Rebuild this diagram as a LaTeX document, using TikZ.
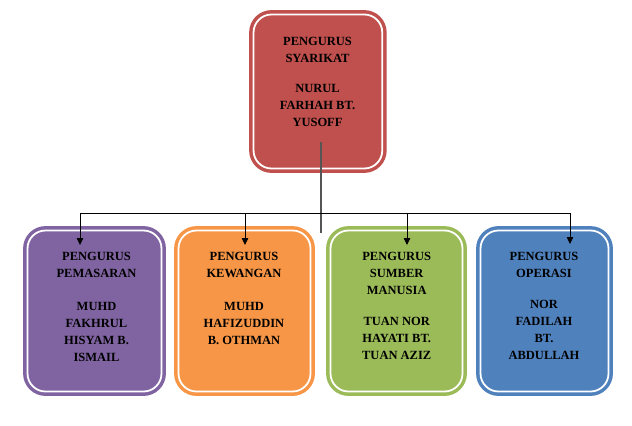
\documentclass[tikz,border=0pt]{standalone}
\usepackage{fontspec}
\setmainfont{Liberation Serif}
\usetikzlibrary{arrows.meta}
\definecolor{cred}{HTML}{C0504D}
\definecolor{cpurple}{HTML}{8064A2}
\definecolor{corange}{HTML}{F79646}
\definecolor{cgreen}{HTML}{9BBB59}
\definecolor{cblue}{HTML}{4F81BD}
\definecolor{cline}{HTML}{555555}
\begin{document}
\begin{tikzpicture}[x=1bp,y=1bp,
  box/.style={draw=#1, fill=#1, line width=3.5bp, double=white, double distance=1.8bp,
              rounded corners=18bp, minimum height=161bp, inner sep=0pt},
  lbl/.style={anchor=north, align=center, inner sep=0pt, text=black,
              font=\fontsize{12.5bp}{17bp}\selectfont\bfseries},
  conn/.style={draw=black, line width=0.8bp},
  arr/.style={conn, -{Triangle[length=7bp,width=6.5bp]}}]
\fill[white] (0,0) rectangle (632,425);
\useasboundingbox (0,0) rectangle (632,425);

% top box
\node[box=cred, minimum width=128.7bp, minimum height=154bp] (top) at (317.9,333.5) {};
\node[lbl] (toplbl) at (317.5,387.5) {PENGURUS\\SYARIKAT\\[13bp]NURUL\\FARHAH BT.\\YUSOFF};

% bottom boxes
\node[box=cpurple, minimum width=134bp] (b1) at (94.5,114) {};
\node[box=corange, minimum width=132bp] (b2) at (244.5,114) {};
\node[box=cgreen, minimum width=132bp] (b3) at (396.5,114) {};
\node[box=cblue, minimum width=128bp] (b4) at (544.5,114) {};

\node[lbl] (l1) at (96.5,172.5) {PENGURUS\\PEMASARAN\\[16bp]MUHD\\FAKHRUL\\HISYAM B.\\ISMAIL};
\node[lbl] (l2) at (244,172.5) {PENGURUS\\KEWANGAN\\[16bp]MUHD\\HAFIZUDDIN\\B. OTHMAN};
\node[lbl] (l3) at (396.7,172.5) {PENGURUS\\SUMBER\\MANUSIA\\[14bp]TUAN NOR\\HAYATI BT.\\TUAN AZIZ};
\node[lbl] (l4) at (544,172.5) {PENGURUS\\OPERASI\\[14bp]NOR\\FADILAH\\BT.\\ABDULLAH};

% connectors
\coordinate (vs) at (321,283);
\coordinate (ve) at (321,192);
\coordinate (h1) at (80,212);
\coordinate (h2) at (245,212);
\coordinate (h3) at (407,212);
\coordinate (h4) at (570,212);
\coordinate (t1) at (80,180);
\coordinate (t2) at (245,180);
\coordinate (t3) at (407,180);
\coordinate (t4) at (570,181);

\draw[draw=cline, line width=1.2bp] (vs) -- (ve);
\draw[conn] (h1) -- (h4);
\draw[arr] (h1) -- (t1);
\draw[arr] (h2) -- (t2);
\draw[arr] (h3) -- (t3);
\draw[arr] (h4) -- (t4);
\end{tikzpicture}
\end{document}
